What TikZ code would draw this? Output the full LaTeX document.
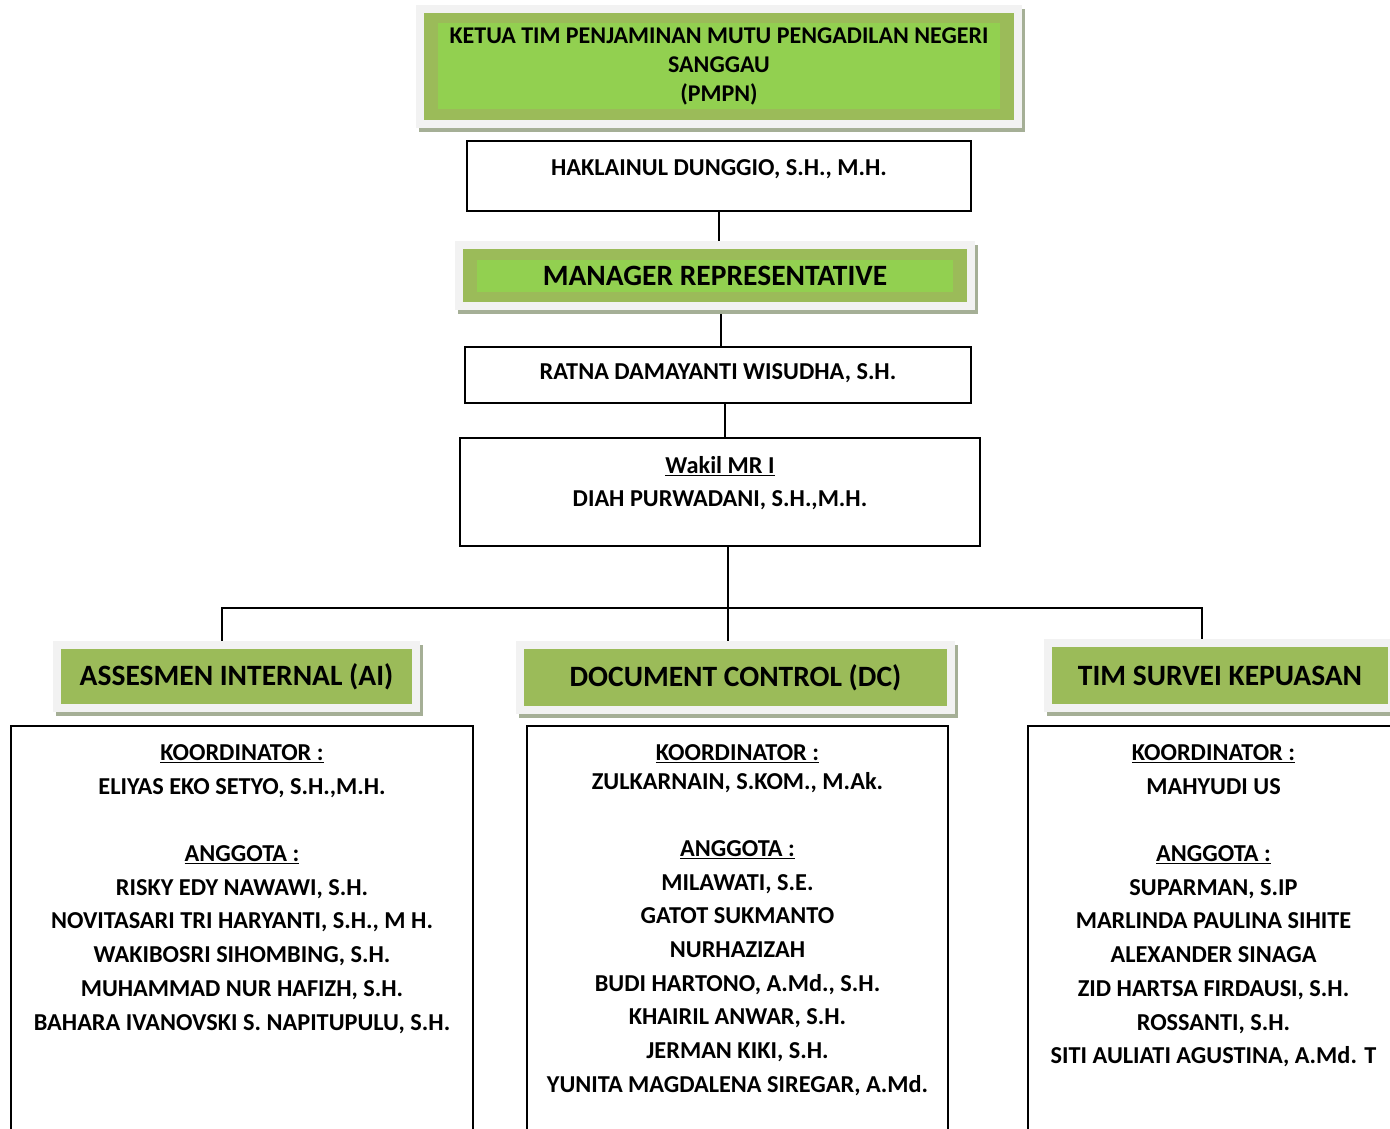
\documentclass[tikz,border=0pt]{standalone}
\usepackage{fontspec}
\setmainfont{Carlito}
\usetikzlibrary{positioning,backgrounds}

\definecolor{paleframe}{RGB}{242,242,242}
\definecolor{olivegreen}{RGB}{155,187,89}
\definecolor{brightgreen}{RGB}{146,208,80}
\definecolor{shadowgrey}{RGB}{165,175,150}

\tikzset{
  whitebox/.style={draw, line width=1.5pt, fill=white, inner sep=0pt},
  headbox/.style={draw=paleframe, line width=8pt, fill=olivegreen, inner sep=0pt,
    preaction={fill=shadowgrey, draw=shadowgrey, line width=8pt,
      transform canvas={xshift=3pt,yshift=-4pt}},
    font=\bfseries\fontsize{29.5}{32}\selectfont},
  titlebox/.style={headbox, align=center,
    path picture={\fill[brightgreen]
      ([xshift=18pt,yshift=14.5pt]path picture bounding box.south west) rectangle
      ([xshift=-18pt,yshift=-14.5pt]path picture bounding box.north east);}},
  nametxt/.style={font=\bfseries\fontsize{24.3}{33.7}\selectfont, align=center, inner sep=0pt},
  link/.style={line width=1.3pt}
}

\begin{document}
\begin{tikzpicture}[x=1pt,y=-1pt]
  \useasboundingbox (0,0) rectangle (1390,1129);

  % top of the chart
  \node[titlebox, minimum width=598, minimum height=115,
        font=\bfseries\fontsize{24}{29}\selectfont] (pmpn) at (719,66.5)
        {KETUA TIM PENJAMINAN MUTU PENGADILAN NEGERI\\SANGGAU\\(PMPN)};
  \node[whitebox, minimum width=504, minimum height=70] (hak) at (719,176) {};
  \node[nametxt, below=19.3pt of hak.north] {HAKLAINUL DUNGGIO, S.H., M.H.};

  \node[titlebox, minimum width=512, minimum height=61] (mr) at (715,275.5) {MANAGER REPRESENTATIVE};
  \node[whitebox, minimum width=506, minimum height=56] (ratna) at (718,375) {};
  \node[nametxt, below=17.3pt of ratna.north] {RATNA DAMAYANTI WISUDHA, S.H.};

  \node[whitebox, minimum width=520, minimum height=108] (wakil) at (720,492) {};
  \node[nametxt, below=18.7pt of wakil.north] {\underline{Wakil MR I}\\DIAH PURWADANI, S.H.,M.H.};

  % the three teams
  \node[headbox, minimum width=359, minimum height=63] (ai) at (236.5,676.5) {ASSESMEN INTERNAL (AI)};
  \node[headbox, minimum width=431, minimum height=65] (dc) at (735.5,677.5) {DOCUMENT CONTROL (DC)};
  \node[headbox, minimum width=344, minimum height=65] (tsk) at (1220,675.5) {TIM SURVEI KEPUASAN};

  \node[whitebox, minimum width=462, minimum height=420, anchor=north] (aibox) at (242,725) {};
  \node[whitebox, minimum width=421, minimum height=420, anchor=north] (dcbox) at (737.5,725) {};
  \node[whitebox, minimum width=371, minimum height=420, anchor=north] (tskbox) at (1213.5,725) {};

  \node[nametxt, below=19.3pt of aibox.north] {\underline{KOORDINATOR :}\\ELIYAS EKO SETYO, S.H.,M.H.\\[33.7pt]
    \underline{ANGGOTA :}\\RISKY EDY NAWAWI, S.H.\\NOVITASARI TRI HARYANTI, S.H., M H.\\
    WAKIBOSRI SIHOMBING, S.H.\\MUHAMMAD NUR HAFIZH, S.H.\\BAHARA IVANOVSKI S. NAPITUPULU, S.H.};
  \node[nametxt, below=19.3pt of dcbox.north] {\underline{KOORDINATOR :}\\[-4.7pt]ZULKARNAIN, S.KOM., M.Ak.\\[33.3pt]
    \underline{ANGGOTA :}\\MILAWATI, S.E.\\GATOT SUKMANTO\\NURHAZIZAH\\BUDI HARTONO, A.Md., S.H.\\
    KHAIRIL ANWAR, S.H.\\JERMAN KIKI, S.H.\\YUNITA MAGDALENA SIREGAR, A.Md.};
  \node[nametxt, below=19.3pt of tskbox.north] {\underline{KOORDINATOR :}\\MAHYUDI US\\[33.7pt]
    \underline{ANGGOTA :}\\SUPARMAN, S.IP\\MARLINDA PAULINA SIHITE\\ALEXANDER SINAGA\\
    ZID HARTSA FIRDAUSI, S.H.\\ROSSANTI, S.H.\\SITI AULIATI AGUSTINA, A.Md. T};

  % connectors
  \begin{scope}[on background layer]
    \draw[link] (hak.south) -- (hak.south |- mr.north);
    \draw[link] ([xshift=3pt]ratna.north) -- ([xshift=3pt]ratna.north |- mr.south);
    \draw[link] ([xshift=5pt]wakil.north) -- ([xshift=5pt]wakil.north |- ratna.south);
    \draw[link] ([xshift=8pt]wakil.south) -- ([xshift=8pt]wakil.south |- dc.north);
    \draw[link] ([xshift=-14.5pt]ai.north) -- ++(0,-33) -| ([xshift=-18pt]tsk.north);
  \end{scope}
\end{tikzpicture}
\end{document}
